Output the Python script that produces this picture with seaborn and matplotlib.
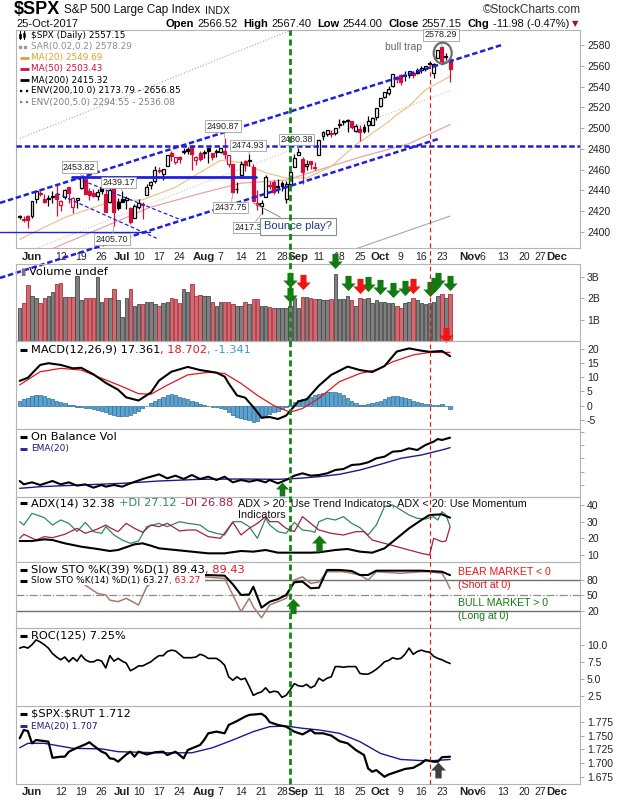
import numpy as np
import pandas as pd
import matplotlib
matplotlib.use("Agg")
import matplotlib.pyplot as plt
import seaborn as sns
from matplotlib.lines import Line2D
from matplotlib.patches import Ellipse, Rectangle
from matplotlib.path import Path
from matplotlib.transforms import blended_transform_factory

# -----------------------------
# 1. Data
# -----------------------------
HOLIDAYS = ["2017-05-29", "2017-07-04", "2017-09-04", "2017-11-23"]

prev_close = 2415.07  # close before the first candle

opens = [2414.50, 2411.67, 2415.63, 2415.65, 2431.28, 2437.83, 2431.92, 2432.03, 2434.27, 2436.39,
         2425.88, 2434.15, 2443.75, 2424.14, 2431.24, 2442.55, 2450.66, 2439.31, 2437.40, 2434.65,
         2443.32, 2436.34, 2428.70, 2442.38, 2429.20, 2431.39, 2430.78, 2423.44, 2413.52, 2424.51,
         2427.35, 2435.75, 2444.99, 2449.16, 2459.50, 2455.88, 2463.85, 2475.56, 2467.40, 2472.04,
         2477.88, 2479.97, 2482.76, 2469.12, 2475.94, 2477.10, 2480.38, 2476.03, 2476.88, 2477.14,
         2478.35, 2465.35, 2465.38, 2441.04, 2454.96, 2468.66, 2468.63, 2462.95, 2427.64, 2425.50,
         2433.75, 2444.88, 2447.91, 2444.72, 2447.35, 2431.94, 2446.06, 2462.65, 2474.42, 2470.35,
         2463.83, 2468.06, 2462.25, 2474.52, 2491.94, 2493.89, 2494.56, 2495.67, 2502.51, 2506.29,
         2506.84, 2507.16, 2497.26, 2499.39, 2501.04, 2503.30, 2503.41, 2510.81, 2521.20, 2530.34,
         2533.48, 2540.86, 2547.44, 2551.39, 2549.99, 2550.62, 2552.88, 2555.66, 2555.57, 2557.17,
         2562.87, 2553.39, 2567.56, 2578.08, 2568.66, 2566.52]
highs = [2416.68, 2415.26, 2415.99, 2430.06, 2440.23, 2439.55, 2436.21, 2435.28, 2439.27, 2446.20,
         2430.38, 2441.49, 2443.75, 2433.95, 2433.15, 2453.82, 2450.66, 2442.23, 2441.62, 2441.40,
         2450.42, 2440.15, 2442.97, 2442.73, 2432.71, 2439.17, 2434.90, 2424.28, 2426.92, 2432.00,
         2429.30, 2445.76, 2449.32, 2463.54, 2462.82, 2460.92, 2473.83, 2477.62, 2472.54, 2473.10,
         2481.24, 2481.69, 2484.04, 2473.53, 2477.96, 2478.51, 2480.38, 2476.03, 2480.00, 2480.95,
         2490.87, 2474.41, 2465.38, 2448.09, 2468.22, 2468.90, 2474.93, 2465.02, 2440.27, 2430.58,
         2454.77, 2448.91, 2450.39, 2451.32, 2449.12, 2449.19, 2460.61, 2475.01, 2480.38, 2471.97,
         2469.64, 2468.62, 2467.11, 2488.95, 2496.77, 2498.37, 2498.43, 2500.23, 2508.32, 2507.84,
         2508.85, 2507.16, 2503.47, 2502.54, 2503.51, 2511.75, 2510.81, 2519.44, 2529.23, 2535.13,
         2540.53, 2552.51, 2549.41, 2551.82, 2555.23, 2555.24, 2555.33, 2557.65, 2559.47, 2559.71,
         2564.11, 2562.36, 2575.44, 2578.29, 2572.18, 2567.40]
lows = [2412.20, 2409.43, 2403.59, 2413.54, 2427.71, 2434.32, 2428.12, 2424.75, 2427.94, 2415.70,
        2419.97, 2431.28, 2428.34, 2418.53, 2422.88, 2441.79, 2436.60, 2430.74, 2433.27, 2431.11,
        2437.03, 2419.38, 2428.02, 2405.70, 2421.65, 2428.69, 2422.05, 2407.70, 2413.52, 2422.27,
        2412.79, 2435.75, 2441.69, 2446.69, 2457.16, 2450.34, 2463.85, 2468.43, 2465.06, 2466.32,
        2474.91, 2474.94, 2459.93, 2464.66, 2468.53, 2471.14, 2466.48, 2468.85, 2472.08, 2475.88,
        2470.32, 2462.08, 2437.75, 2437.85, 2454.96, 2458.33, 2463.81, 2430.01, 2420.69, 2417.35,
        2433.67, 2441.42, 2436.19, 2437.81, 2439.03, 2428.20, 2443.77, 2462.65, 2473.85, 2446.55,
        2459.20, 2460.29, 2459.40, 2474.52, 2488.45, 2492.14, 2491.35, 2493.16, 2499.92, 2503.19,
        2496.67, 2499.00, 2496.54, 2488.03, 2495.12, 2495.91, 2502.93, 2507.99, 2520.40, 2528.85,
        2531.80, 2540.02, 2543.79, 2541.60, 2544.86, 2547.95, 2548.31, 2552.09, 2553.38, 2554.69,
        2559.67, 2547.92, 2567.56, 2564.33, 2565.58, 2544.00]
closes = [2415.82, 2412.91, 2411.80, 2430.06, 2439.07, 2436.10, 2429.33, 2433.14, 2433.79, 2431.77,
          2429.39, 2440.35, 2437.92, 2432.46, 2433.15, 2453.46, 2437.03, 2435.61, 2434.50, 2438.30,
          2439.07, 2419.38, 2440.69, 2419.70, 2423.41, 2429.01, 2432.54, 2409.75, 2425.18, 2427.43,
          2425.53, 2443.25, 2447.83, 2459.27, 2459.14, 2460.61, 2473.83, 2473.45, 2472.54, 2469.91,
          2477.13, 2477.83, 2475.42, 2472.10, 2470.30, 2476.35, 2477.57, 2472.16, 2476.83, 2480.91,
          2474.92, 2474.02, 2438.21, 2441.32, 2465.84, 2464.61, 2468.11, 2430.01, 2425.55, 2428.37,
          2452.51, 2444.04, 2438.97, 2443.05, 2444.24, 2446.30, 2457.59, 2471.65, 2476.55, 2457.85,
          2465.54, 2465.10, 2461.43, 2488.11, 2496.48, 2498.37, 2495.62, 2500.23, 2503.87, 2506.65,
          2508.24, 2500.60, 2502.22, 2496.66, 2496.84, 2507.04, 2510.06, 2519.36, 2529.12, 2534.58,
          2537.74, 2552.07, 2549.33, 2544.73, 2550.64, 2555.24, 2550.93, 2553.17, 2557.64, 2559.36,
          2561.26, 2562.10, 2575.21, 2564.98, 2569.13, 2557.15]

# volume in billions
volume = [1.53, 1.77, 2.63, 2.13, 2.03, 1.77, 2.03, 2.10, 2.28, 2.67,
          2.70, 2.08, 2.08, 2.08, 3.05, 1.92, 2.00, 2.00, 2.00, 2.98,
          1.81, 2.03, 2.00, 2.45, 1.90, 1.14, 2.00, 2.45, 1.65, 1.75,
          1.75, 1.85, 1.85, 1.75, 1.65, 1.80, 1.85, 2.00, 1.95, 1.80,
          2.45, 2.30, 2.65, 2.10, 2.15, 2.10, 2.10, 1.85, 1.65, 1.85,
          1.85, 1.85, 1.75, 1.65, 1.65, 1.85, 1.75, 1.95, 1.95, 1.65,
          1.65, 1.60, 1.55, 1.55, 1.55, 1.55, 1.65, 2.00, 1.55, 2.08,
          2.08, 2.00, 1.95, 1.95, 1.90, 1.90, 1.95, 3.12, 1.95, 1.95,
          2.13, 1.90, 1.65, 2.03, 1.95, 2.00, 1.80, 1.90, 1.85, 1.85,
          1.80, 1.80, 1.65, 1.55, 1.80, 1.85, 2.00, 1.90, 1.80, 1.75,
          1.80, 1.85, 2.10, 2.20, 2.00, 2.20]

# overlays on the price panel (trading-day index, value)
ma20_day = [0, 11, 22, 30, 38, 46, 49, 54, 60, 65, 70, 76, 82, 90, 92, 95, 99, 105]
ma20 = [2393, 2414, 2429, 2431, 2443, 2462, 2469, 2467, 2457, 2452, 2452, 2463, 2484, 2506, 2513, 2521, 2537, 2549.69]
ma50_day = [0, 8, 32, 44, 54, 65, 83, 95, 105]
ma50 = [2372, 2384, 2424, 2437, 2447, 2450, 2472, 2485, 2503.43]
ma200_day = [0, 50, 105]
ma200 = [2266, 2340, 2415.32]
env10_day = [0, 30, 66, 105]
env10_up = [2490, 2537, 2594, 2656.85]
env5_day = [0, 46, 105]
env5_up = [2378, 2449, 2536.08]

# MACD(12,26,9)
macd_day = [0, 2, 5, 7, 10, 13, 15, 18, 21, 24, 26, 29, 32, 34, 37, 41, 44, 48, 50, 51, 53,
            55, 57, 59, 61, 63, 65, 68, 70, 73, 76, 80, 83, 86, 89, 92, 95, 98, 100, 103, 105]
macd = [8.7, 9.8, 14.3, 14.9, 14.3, 13.1, 13.3, 11.0, 8.0, 5.6, 2.9, 1.8, 4.6, 8.8, 11.9, 13.6, 12.5,
        11.6, 10.2, 7.8, 3.6, 2.8, -0.5, -4.2, -4.0, -4.7, -3.5, 1.5, 2.2, 7.0, 10.8, 13.7, 12.5, 11.8,
        13.9, 19.0, 20.1, 19.3, 18.9, 19.2, 17.361]
signal_day = [0, 5, 10, 15, 20, 25, 29, 32, 36, 41, 46, 50, 54, 58, 62, 66, 69, 73, 78, 83, 87, 91, 96, 100, 105]
signal = [7.3, 11.9, 13.1, 12.5, 9.6, 6.7, 4.2, 4.0, 7.2, 10.8, 11.7, 11.3, 7.8, 3.6, 0.0, -2.3, -1.0,
          2.6, 8.4, 11.3, 12.6, 15.4, 17.8, 18.7, 18.702]
macd_hist = [1.8, 2.2, 2.8, 3.3, 3.7, 3.8, 3.4, 2.8, 2.2, 1.7,
             1.2, 0.8, 0.4, 0.1, -0.3, -0.5, -0.7, -1.0, -1.3, -1.6,
             -2.0, -2.4, -2.8, -3.2, -3.5, -3.6, -3.7, -3.3, -2.6, -1.8,
             -1.0, -0.2, 0.8, 1.6, 2.4, 3.2, 3.8, 4.0, 3.6, 3.2,
             2.8, 2.3, 1.8, 1.2, 0.7, 0.3, 0.0, -0.3, -0.6, -0.9,
             -1.3, -2.2, -3.2, -4.0, -4.3, -4.6, -5.0, -5.6, -5.3, -4.4,
             -3.6, -3.0, -2.4, -1.8, -1.2, -0.6, 0.3, 1.2, 2.0, 2.4,
             2.6, 3.0, 3.6, 4.2, 4.6, 4.8, 4.9, 4.9, 4.6, 3.8,
             2.8, 1.8, 1.0, 0.4, 0.3, 0.5, 0.9, 1.4, 1.8, 2.2,
             3.0, 3.5, 3.4, 3.0, 2.6, 2.2, 1.8, 1.4, 1.0, 0.7,
             0.5, 0.4, 0.4, 0.5, -0.2, -1.341]

# On Balance Volume (relative units, no scale shown)
obv_day = [0, 1, 3, 5, 8, 10, 12, 14, 16, 18, 20, 21, 23, 25, 27, 30, 32, 34, 36, 38, 40, 42, 44, 46,
           48, 50, 52, 54, 56, 58, 60, 61, 63, 65, 67, 69, 71, 73, 75, 77, 79, 81, 83, 85, 87, 89, 91,
           93, 95, 97, 99, 101, 102, 103, 105]
obv = [5.2, 4.2, 4.8, 4.0, 5.2, 4.2, 4.8, 3.8, 4.2, 3.2, 4.0, 3.5, 4.0, 3.5, 4.5, 5.8, 6.5, 7.2, 6.0,
       6.8, 5.8, 7.0, 5.8, 6.5, 5.5, 6.5, 4.8, 5.5, 5.0, 5.5, 4.8, 5.5, 4.5, 5.5, 6.8, 7.5, 6.8, 7.0,
       7.5, 8.5, 8.8, 10.0, 10.2, 10.8, 12.0, 12.5, 14.0, 14.2, 15.0, 14.5, 16.0, 17.0, 17.8, 17.5, 18.2]
obv_ema_day = [0, 5, 15, 25, 34, 44, 54, 63, 68, 73, 78, 83, 88, 93, 98, 103, 105]
obv_ema = [3.0, 3.5, 4.0, 4.5, 5.2, 5.7, 5.8, 5.7, 6.0, 6.5, 7.2, 8.5, 10.2, 12.0, 13.0, 14.5, 15.2]

# ADX(14)
adx_day = [0, 3, 6, 8, 11, 15, 19, 22, 24, 28, 30, 32, 34, 38, 42, 46, 50, 54, 57, 60, 63, 67, 71, 73,
           77, 80, 83, 86, 89, 92, 95, 98, 100, 103, 105]
adx = [18.4, 18.4, 19.4, 19.0, 17.0, 15.0, 13.6, 12.4, 13.0, 16.4, 17.0, 15.6, 14.0, 13.0, 12.0, 11.0,
       11.0, 12.4, 12.0, 13.0, 11.4, 11.4, 11.4, 11.6, 13.0, 13.6, 12.0, 11.4, 14.0, 20.0, 26.0, 31.0,
       34.0, 34.4, 32.38]
pdi_day = [0, 1, 3, 6, 8, 10, 12, 14, 16, 18, 20, 21, 23, 25, 27, 29, 31, 34, 36, 39, 41, 44, 46, 48,
           50, 52, 54, 56, 58, 60, 61, 63, 65, 67, 69, 71, 72, 73, 75, 77, 79, 81, 83, 85, 87, 89, 91,
           93, 95, 97, 99, 101, 102, 103, 104, 105]
pdi = [30, 28, 35, 32.4, 28, 31, 29, 24, 29.6, 24, 23, 27, 22, 19, 17, 18.4, 27, 29, 27, 30, 29, 28,
       24.4, 23, 22, 30, 30, 27, 20, 32, 28, 24, 23, 29.6, 25, 24.4, 23.6, 30, 32, 31, 33, 29, 26.4,
       22, 28, 39, 40, 37, 34, 32, 31.6, 33, 31, 36, 34, 27.12]
mdi_day = [0, 1, 4, 6, 8, 11, 14, 16, 19, 21, 22, 24, 26, 28, 30, 32, 34, 36, 39, 41, 43, 46, 49, 52,
           54, 56, 58, 60, 61, 63, 65, 67, 69, 71, 73, 76, 79, 82, 84, 86, 89, 92, 95, 98, 100, 101,
           103, 104, 105]
mdi = [20, 22.4, 19, 21, 20.4, 22.4, 26, 23, 25.6, 28, 26.4, 24, 29, 26, 23.6, 28, 27, 29, 24.4, 25,
       25, 21, 20, 29.6, 22, 26, 29, 33, 30, 30, 26, 24, 33, 29, 25, 23, 22, 24, 24, 19, 17, 15, 13, 11,
       10, 20, 18, 18.4, 26.88]

# Slow stochastics
sto39_day = [0, 10, 20, 30, 40, 45, 50, 52, 54, 56, 57, 59, 61, 63, 65, 67, 69, 71, 73, 75, 78, 81, 83,
             85, 87, 93, 98, 103, 105]
sto39 = [88, 92, 86, 84, 95, 89.7, 88.4, 71.6, 51, 52, 67, 26.5, 38, 43, 51, 75.5, 76.8, 64, 65, 99.4,
         99.4, 97.4, 89.7, 89.7, 98, 98, 98, 96, 89.43]
sto14_day = [0, 8, 14, 16, 19, 21, 22, 24, 26, 29, 31, 34, 38, 42, 45, 50, 52, 54, 56, 57, 59, 61, 63,
             65, 67, 69, 71, 73, 75, 79, 81, 83, 85, 87, 93, 98, 100, 103, 104, 105]
sto14 = [85, 90, 82, 70, 54, 51, 41, 38, 44.5, 31.6, 67, 85, 90, 88, 86, 83, 51, 18.7, 44.5, 28, 7,
         31.6, 38, 44.5, 80, 86, 73.5, 76, 96, 96, 93, 89.7, 80, 96, 93, 96, 96, 93, 80, 63.27]

# ROC(125), daily
roc = [9.5, 9.7, 9.5, 10.0, 10.7, 10.4, 10.0, 9.5, 8.7, 8.2,
       7.8, 8.2, 7.5, 8.1, 7.6, 8.5, 7.8, 7.5, 7.5, 7.8,
       7.6, 6.6, 8.4, 7.6, 8.0, 7.6, 7.3, 6.2, 6.5, 6.9,
       6.9, 7.2, 7.5, 8.0, 8.4, 8.4, 9.0, 9.2, 9.1, 8.6,
       8.1, 8.1, 8.1, 8.2, 8.6, 8.4, 8.0, 8.0, 8.0, 7.6,
       7.0, 5.3, 4.8, 5.3, 4.9, 5.1, 3.9, 2.6, 2.9, 3.1,
       3.7, 3.0, 3.2, 3.1, 2.3, 2.6, 3.4, 4.3, 4.0, 3.9,
       4.2, 3.7, 4.0, 5.1, 4.7, 5.1, 5.3, 6.8, 6.8, 6.7,
       6.8, 6.8, 6.8, 5.8, 5.7, 5.7, 6.0, 6.4, 6.9, 7.5,
       7.7, 8.1, 7.9, 8.0, 8.6, 9.5, 8.6, 9.0, 9.2, 9.0,
       8.9, 8.3, 8.0, 7.8, 7.5, 7.25]

# $SPX:$RUT ratio
rut_day = [0, 1, 2, 3, 4, 6, 7, 8, 10, 11, 12, 14, 16, 17, 18, 20, 21, 22, 23, 24, 26, 27, 28, 29, 31,
           33, 35, 36, 38, 40, 41, 43, 44, 45, 46, 48, 50, 51, 53, 55, 56, 59, 60, 61, 63, 65, 67, 69,
           71, 72, 74, 76, 78, 80, 82, 84, 85, 86, 87, 89, 90, 92, 94, 96, 98, 99, 101, 102, 103, 105]
rut = [1.745, 1.760, 1.758, 1.736, 1.742, 1.740, 1.739, 1.710, 1.712, 1.712, 1.721, 1.728, 1.734,
       1.738, 1.732, 1.721, 1.718, 1.709, 1.708, 1.703, 1.716, 1.721, 1.712, 1.721, 1.716, 1.720,
       1.721, 1.715, 1.721, 1.709, 1.724, 1.730, 1.733, 1.742, 1.754, 1.757, 1.754, 1.769, 1.776,
       1.784, 1.787, 1.789, 1.784, 1.774, 1.769, 1.766, 1.757, 1.752, 1.760, 1.754, 1.754, 1.750,
       1.740, 1.736, 1.724, 1.715, 1.691, 1.685, 1.688, 1.676, 1.680, 1.685, 1.690, 1.692, 1.700,
       1.706, 1.703, 1.703, 1.711, 1.712]
rut_ema_day = [0, 2, 6, 13, 20, 24, 29, 34, 42, 47, 52, 57, 61, 65, 69, 73, 78, 83, 88, 93, 98, 101, 105]
rut_ema = [1.728, 1.736, 1.736, 1.727, 1.726, 1.721, 1.720, 1.719, 1.719, 1.728, 1.742, 1.757, 1.766,
           1.767, 1.763, 1.760, 1.754, 1.739, 1.718, 1.707, 1.705, 1.705, 1.707]

# annotation arrows: (day, level)
vol_green_day = [66, 66, 77, 80, 85, 88, 91, 94, 100, 101, 102, 105]
vol_green_lvl = [2.84, 2.14, 3.73, 2.70, 2.65, 2.54, 2.39, 2.49, 2.44, 2.63, 2.86, 2.70]
vol_red_day = [69, 83, 96, 104]
vol_red_lvl = [2.75, 2.56, 2.58, 0.26]

# price labels: text, (day, price) of the point, (day, price) of the label
price_labels = [
    ("2490.87", (50, 2490.87), (49.6, 2502.0)),
    ("2474.93", (56, 2474.93), (55.7, 2483.2)),
    ("2480.38", (68, 2480.38), (67.6, 2489.0)),
    ("2453.82", (15, 2453.82), (14.5, 2462.5)),
    ("2439.17", (25, 2439.17), (24.2, 2447.6)),
    ("2437.75", (52, 2437.75), (51.5, 2423.6)),
    ("2417.35", (59, 2417.35), (56.4, 2404.3)),
    ("2405.70", (23, 2405.70), (22.5, 2393.0)),
    ("2578.29", (103, 2578.29), (102.8, 2589.8)),
]

tick_dates = ["2017-06-01", "2017-06-12", "2017-06-19", "2017-06-26", "2017-07-03", "2017-07-10",
              "2017-07-17", "2017-07-24", "2017-08-01", "2017-08-07", "2017-08-14", "2017-08-21",
              "2017-08-28", "2017-09-01", "2017-09-11", "2017-09-18", "2017-09-25", "2017-10-02",
              "2017-10-09", "2017-10-16", "2017-10-23", "2017-11-01", "2017-11-06", "2017-11-13",
              "2017-11-20", "2017-11-27", "2017-12-01"]
tick_labels = ["Jun", "12", "19", "26", "Jul", "10", "17", "24", "Aug", "7", "14", "21", "28", "Sep",
               "11", "18", "25", "Oct", "9", "16", "23", "Nov", "6", "13", "20", "27", "Dec"]
MONTHS = {"Jun", "Jul", "Aug", "Sep", "Oct", "Nov", "Dec"}

# -----------------------------
# 2. Setup
# -----------------------------
sns.set_theme(style="white")
plt.rcParams["font.family"] = ["Liberation Sans", "DejaVu Sans"]
plt.rcParams["axes.unicode_minus"] = False
LEG = ["DejaVu Sans", "Liberation Sans"]
LEG_SIZE = 8.2     # main legend line of each lower panel
SUB_SIZE = 6.5     # overlay legend lines

days = pd.bdate_range("2017-05-26", "2017-12-15")
days = days[~days.isin(pd.to_datetime(HOLIDAYS))]
pos = {d: i for i, d in enumerate(days)}
x = np.arange(len(closes))
tick_pos = [pos[pd.Timestamp(d)] for d in tick_dates]

RED = "#D0103A"
BLUE = "#1F1FE0"
GREEN = "#127A12"
NAVY = "#1A1A8C"

W, H = 620, 800
fig = plt.figure(figsize=(6.2, 8), dpi=100)
fig.patch.set_facecolor("white")
R = fig.canvas.get_renderer()


def fx(px):
    return px / W


def fy(py):
    return 1 - py / H


def panel(top, bottom, ylim):
    ax = fig.add_axes([fx(16), fy(bottom), (580 - 16) / W, (bottom - top) / H])
    ax.set_facecolor("none")
    ax.set_xlim(-0.9, 136.7)
    ax.set_ylim(*ylim)
    for s in ax.spines.values():
        s.set_color("#B4B4B4")
        s.set_linewidth(0.8)
    ax.yaxis.tick_right()
    ax.tick_params(axis="y", direction="out", length=3, width=0.6, color="#999999",
                   labelsize=7.5, pad=2, labelcolor="#222222")
    ax.tick_params(axis="x", length=0, labelbottom=False)
    ax.set_xlabel("")
    ax.set_ylabel("")
    return ax


def sline(ax, xs, ys, color, lw=1.0, ls="-", z=3):
    sns.lineplot(x=list(xs), y=list(ys), ax=ax, color=color, linewidth=lw, linestyle=ls,
                 estimator=None, sort=False, zorder=z)
    ax.set_xlabel("")
    ax.set_ylabel("")


def chain(xp, yp, parts, size=7, family=LEG, gap=0.0, zorder=3):
    for s, c, w in parts:
        t = fig.text(fx(xp), fy(yp), s, color=c, fontsize=size, fontweight=w, family=family,
                     va="center", ha="left", zorder=zorder)
        xp = t.get_window_extent(renderer=R).x1 + gap
    return xp


def dash(xp, yp, color, ls="-", lw=2.2, length=7):
    fig.add_artist(Line2D([fx(xp), fx(xp + length)], [fy(yp)] * 2, color=color, lw=lw, ls=ls,
                          transform=fig.transFigure, solid_capstyle="butt"))


def date_ticks(ax, pad):
    ax.set_xticks(tick_pos, tick_labels)
    ax.tick_params(axis="x", labelbottom=True, labelsize=7.5, pad=pad, length=0, labelcolor="#222222")
    for t in ax.get_xticklabels():
        if t.get_text() in MONTHS:
            t.set_fontweight("bold")
            t.set_fontsize(8.2)


arrow_down = Path([(-0.2, 0.5), (0.2, 0.5), (0.2, 0.0), (0.47, 0.0), (0.0, -0.5), (-0.47, 0.0),
                   (-0.2, 0.0), (-0.2, 0.5)], closed=True)
arrow_up = Path([(-0.2, -0.5), (0.2, -0.5), (0.2, 0.0), (0.47, 0.0), (0.0, 0.5), (-0.47, 0.0),
                 (-0.2, 0.0), (-0.2, -0.5)], closed=True)

# -----------------------------
# 3. Header
# -----------------------------
xe = chain(14, 10, [("\\$SPX", "black", "bold")], size=13, family=["Liberation Sans"], gap=4)
xe = chain(xe, 10, [("S&P 500 Large Cap Index", "#111111", "normal")], size=8.5,
           family=["Liberation Sans"], gap=4)
chain(xe, 10.5, [("INDX", "#111111", "normal")], size=7.5, family=["Liberation Sans"])
fig.text(fx(581), fy(10), "\u00a9StockCharts.com", ha="right", va="center", fontsize=8.5, color="#333333")
fig.text(fx(16), fy(24), "25-Oct-2017", ha="left", va="center", fontsize=8, color="#111111")
xe = 166
for lab, val in [("Open", "2566.52"), ("High", "2567.40"), ("Low", "2544.00"),
                 ("Close", "2557.15"), ("Chg", "-11.98 (-0.47%)")]:
    xe = chain(xe, 24, [(lab, "black", "bold")], size=8, family=["Liberation Sans"], gap=3)
    xe = chain(xe, 24, [(val, "#111111", "normal")], size=8, family=["Liberation Sans"], gap=6)
chain(xe - 3, 24, [("\u25bc", "#A01030", "normal")], size=6, family=["DejaVu Sans"])

# -----------------------------
# 4. Price panel
# -----------------------------
ax = panel(30, 248, (2384.6, 2594.4))
ax.set_yticks(np.arange(2400, 2581, 20))

sline(ax, env10_day, env10_up, "#A8A8A8", lw=0.8, ls=":")
sline(ax, env5_day, env5_up, "#C4C4C4", lw=0.8, ls=":")
sline(ax, ma200_day, ma200, "#A8A8A8", lw=0.8)
sline(ax, ma50_day, ma50, "#E6A4AE", lw=0.9)
sline(ax, ma20_day, ma20, "#EBC48A", lw=0.9)

o, h, l, c = map(np.array, (opens, highs, lows, closes))
prev = np.r_[prev_close, c[:-1]]
edge = np.where(c >= prev, "black", RED)
fill = np.where(c < o, edge, "white")
ax.vlines(x, l, h, colors=edge, lw=0.9, zorder=4)
ax.bar(x, np.maximum(np.abs(c - o), 0.7), bottom=np.minimum(o, c), width=0.72,
       color=fill, edgecolor=edge, linewidth=0.9, zorder=5)

# trend lines
ax.plot([-4.8, 117.6], [2428, 2580], color=BLUE, lw=1.8, dashes=(2.2, 1.1), clip_on=False, zorder=6)
ax.plot([-4.8, 102.5], [2355.8, 2490], color=BLUE, lw=1.8, dashes=(2.2, 1.1), clip_on=False, zorder=6)
ax.axhline(2482.7, color=BLUE, lw=1.8, dashes=(2.2, 1.1), zorder=6)
ax.plot([12.8, 57.6], [2452.5, 2452.5], color=BLUE, lw=2.0, zorder=6)
ax.plot([-4.8, 31.8], [2400.3, 2400.3], color=BLUE, lw=1.0, clip_on=False, zorder=6)
ax.plot([13.9, 39.5], [2451.7, 2411.5], color=BLUE, lw=0.9, dashes=(3, 2), zorder=6)
ax.plot([9.0, 33.4], [2437.2, 2394.0], color=BLUE, lw=0.9, dashes=(3, 2), zorder=6)

for txt, pt, lab in price_labels:
    ax.annotate(txt, xy=pt, xytext=lab, textcoords="data", ha="center", va="center",
                fontsize=6.5, color="#222222", zorder=8,
                bbox=dict(boxstyle="square,pad=0.15", fc="white", ec="#A0A0A0", lw=0.6),
                arrowprops=dict(arrowstyle="-", color="#A0A0A0", lw=0.6, shrinkA=0, shrinkB=0))
ax.annotate("Bounce play?", xy=(57, 2428), xytext=(67.9, 2405.3), textcoords="data",
            ha="center", va="center", fontsize=8, color="#1F3A8A", zorder=9,
            bbox=dict(boxstyle="square,pad=0.35", fc="white", ec="#8C8C8C", lw=0.8),
            arrowprops=dict(arrowstyle="-", color="#8C8C8C", lw=0.7, shrinkA=0, shrinkB=0))
ax.text(93.7, 2578, "bull trap", ha="center", va="center", fontsize=7.5, color="#666666", zorder=8)
ax.add_patch(Ellipse((103.2, 2572.2), 4.4, 20.2, fill=False, ec="#6E6E6E", lw=1.6, zorder=8))
date_ticks(ax, 3)
ax_main = ax

# legend
fig.add_artist(Line2D([fx(20)] * 2, [fy(31), fy(39)], color="black", lw=0.8, transform=fig.transFigure))
fig.add_artist(Rectangle((fx(19), fy(37.5)), 2 / W, 4 / H, fc="black", ec="black", lw=0.5,
                         transform=fig.transFigure))
fig.add_artist(Line2D([fx(24)] * 2, [fy(31), fy(39)], color="black", lw=0.8, transform=fig.transFigure))
fig.add_artist(Rectangle((fx(23), fy(36.5)), 2 / W, 4 / H, fc="white", ec="black", lw=0.5,
                         transform=fig.transFigure))
chain(31, 35, [("\\$SPX (Daily) 2557.15", "black", "normal")], size=6.4)
fig.add_artist(Line2D([fx(20), fx(25)], [fy(46.5)] * 2, ls="none", marker="s", ms=1.8,
                      color="#9A9A9A", transform=fig.transFigure))
chain(31, 46.5, [("SAR(0.02,0.2) 2578.29", "#8C8C8C", "normal")], size=6.4)
for yy, ls, col, txt in [(57.5, "-", "#E0A030", "MA(20) 2549.69"), (68.5, "-", RED, "MA(50) 2503.43"),
                         (80, "-", "black", "MA(200) 2415.32"),
                         (91, ":", "black", "ENV(200,10.0) 2173.79 - 2656.85"),
                         (102, ":", "#808080", "ENV(200,5.0) 2294.55 - 2536.08")]:
    dash(20, yy, col, ls=ls, lw=2.0 if ls == "-" else 1.6, length=9)
    chain(31, yy, [(txt, col, "normal")], size=6.4)

# -----------------------------
# 5. Volume
# -----------------------------
ax = panel(264, 341, (0, 3.61))
vol_up = c >= prev
ax.bar(x, volume, width=0.85, color=np.where(vol_up, "#7F7F7F", "#CF6A70"),
       edgecolor=np.where(vol_up, "#4A4A4A", "#B03040"), linewidth=0.6, zorder=3)
ax.set_yticks([1, 2, 3], ["1B", "2B", "3B"])
ax.scatter(vol_green_day, vol_green_lvl, marker=arrow_down, s=120, color=GREEN, linewidths=0,
           zorder=7, clip_on=False)
ax.scatter(vol_red_day, vol_red_lvl, marker=arrow_down, s=120, color="#F01414", linewidths=0,
           zorder=7, clip_on=False)
fig.text(fx(20), fy(272), "\u25ae", color="#777777", fontsize=7, va="center", family=LEG)
chain(29, 272, [("Volume undef", "black", "normal")], size=LEG_SIZE)

# -----------------------------
# 6. MACD
# -----------------------------
ax = panel(341, 429, (-8.2, 22.7))
ax.bar(x, macd_hist, width=0.85, color="#5BA3D0", edgecolor="#2C6E99", linewidth=0.5, zorder=2)
sline(ax, signal_day, signal, "#E8141E", lw=0.9, z=3)
sline(ax, macd_day, macd, "black", lw=1.5, z=4)
ax.set_yticks([-5, 0, 5, 10, 15, 20])
dash(20, 350, "black")
chain(31, 350, [("MACD(12,26,9) 17.361", "black", "normal"), (", 18.702", "#E8141E", "normal"),
                (", -1.341", "#3A9AD0", "normal")], size=LEG_SIZE)

# -----------------------------
# 7. On Balance Volume
# -----------------------------
ax = panel(429, 497, (0.4, 20.8))
sline(ax, obv_ema_day, obv_ema, NAVY, lw=1.0, z=3)
sline(ax, obv_day, obv, "black", lw=1.5, z=4)
ax.set_yticks([4, 8, 12, 16, 20], [""] * 5)
ax.scatter([64], [2.8], marker=arrow_up, s=100, color=GREEN, linewidths=0, zorder=7)
dash(20, 437, "black")
chain(31, 437, [("On Balance Vol", "black", "normal")], size=LEG_SIZE)
dash(20, 449, NAVY, lw=2.0)
chain(31, 449, [("EMA(20)", NAVY, "normal")], size=SUB_SIZE)

# -----------------------------
# 8. ADX
# -----------------------------
ax = panel(497, 562, (5.8, 44.8))
sline(ax, pdi_day, pdi, "#2E8B57", lw=0.9, z=3)
sline(ax, mdi_day, mdi, "#A0204A", lw=0.9, z=3)
sline(ax, adx_day, adx, "black", lw=1.5, z=4)
ax.set_yticks([10, 20, 30, 40])
ax.scatter([73], [17.2], marker=arrow_up, s=130, color=GREEN, linewidths=0, zorder=7)
dash(20, 503, "black")
chain(31, 503, [("ADX(14) 32.38 ", "black", "normal"), ("+DI 27.12 ", "#2E8B57", "normal"),
                ("-DI 26.88", "#A0204A", "normal")], size=LEG_SIZE, gap=1)
fig.text(fx(238), fy(503), "ADX > 20: Use Trend Indicators, ADX < 20: Use Momentum",
         fontsize=7.8, va="center", ha="left", color="#111111")
fig.text(fx(238), fy(515), "Indicators", fontsize=7.8, va="center", ha="left", color="#111111")

# -----------------------------
# 9. Slow Stochastics
# -----------------------------
ax = panel(562, 628, (-12.9, 114.8))
ax.axhline(80, color="#707070", lw=1.0, zorder=2)
ax.axhline(50, color="#8C8C8C", lw=0.9, ls="-.", zorder=2)
ax.axhline(20, color="#707070", lw=1.0, zorder=2)
sline(ax, sto14_day, sto14, "#A57C70", lw=1.1, z=3)
sline(ax, sto39_day, sto39, "black", lw=1.5, z=4)
ax.set_yticks([20, 50, 80])
ax.scatter([66.7], [30.6], marker=arrow_up, s=120, color=GREEN, linewidths=0, zorder=7)
fig.add_artist(Rectangle((fx(16.5), fy(585)), (205 - 16.5) / W, (585 - 563) / H, fc="white",
                         ec="none", transform=fig.transFigure, zorder=1))
dash(20, 570, "black")
chain(31, 570, [("Slow STO %K(39) %D(1) 89.43", "black", "normal"), (", 89.43", "#E8141E", "normal")],
      size=LEG_SIZE)
dash(20, 580.5, "black")
chain(31, 580.5, [("Slow STO %K(14) %D(1) 63.27", "black", "normal"), (", 63.27", "#E8141E", "normal")],
      size=SUB_SIZE)
for yy, txt, col in [(572, "BEAR MARKET < 0", "#F01414"), (585, "(Short at 0)", "#F01414"),
                     (603, "BULL MARKET > 0", "#127A12"), (616, "(Long at 0)", "#127A12")]:
    fig.text(fx(458), fy(yy), txt, fontsize=7.6, va="center", ha="left", color=col)

# -----------------------------
# 10. ROC
# -----------------------------
ax = panel(628, 706, (1.04, 12.44))
sline(ax, x, roc, "black", lw=1.2, z=4)
ax.set_yticks([2.5, 5.0, 7.5, 10.0], ["2.5", "5.0", "7.5", "10.0"])
dash(20, 636, "black")
chain(31, 636, [("ROC(125) 7.25%", "black", "normal")], size=LEG_SIZE)

# -----------------------------
# 11. SPX:RUT
# -----------------------------
ax = panel(706, 784, (1.663, 1.803))
sline(ax, rut_ema_day, rut_ema, NAVY, lw=1.0, z=3)
sline(ax, rut_day, rut, "black", lw=1.6, z=4)
ax.set_yticks([1.675, 1.700, 1.725, 1.750, 1.775], ["1.675", "1.700", "1.725", "1.750", "1.775"])
ax.scatter([102], [1.6873], marker=arrow_up, s=130, color="#404040", linewidths=0, zorder=7)
date_ticks(ax, 2)
dash(20, 714, "black")
chain(31, 714, [("\\$SPX:\\$RUT 1.712", "black", "normal")], size=LEG_SIZE)
dash(20, 726, NAVY, lw=2.0)
chain(31, 726, [("EMA(20) 1.707", NAVY, "normal")], size=SUB_SIZE)

# -----------------------------
# 12. Vertical marker lines across all panels
# -----------------------------
trans = blended_transform_factory(ax_main.transData, fig.transFigure)
fig.add_artist(Line2D([pos[pd.Timestamp("2017-08-30")]] * 2, [fy(784), fy(30)], transform=trans,
                      color="#118811", lw=2.0, dashes=(2.2, 1.3), zorder=2))
fig.add_artist(Line2D([pos[pd.Timestamp("2017-10-18")]] * 2, [fy(784), fy(63)], transform=trans,
                      color="#E01010", lw=0.8, dashes=(4, 3), zorder=2))

fig.savefig("out.png", dpi=100, facecolor="white")
